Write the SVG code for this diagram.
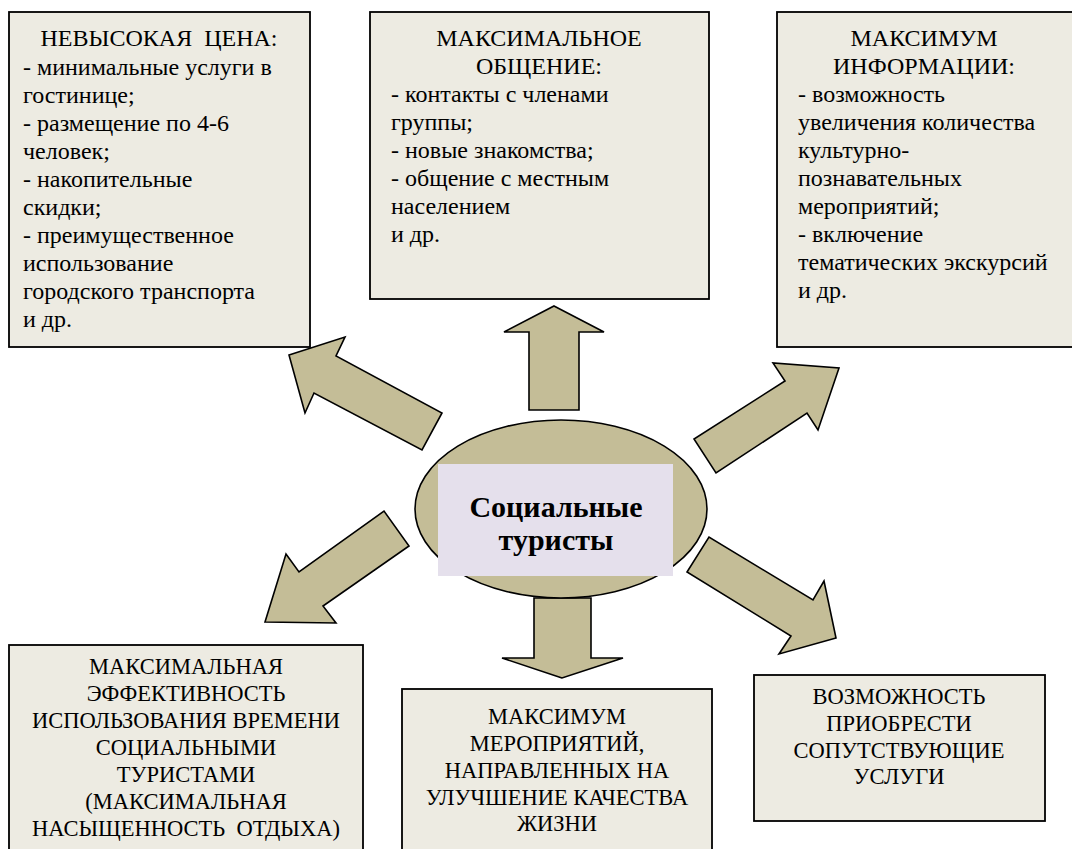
<svg xmlns="http://www.w3.org/2000/svg" width="1072" height="849" viewBox="0 0 1072 849">
<style>
.box{fill:#EDEBE2;stroke:#000;stroke-width:1.8}
.arr{fill:#C4BD97;stroke:#000;stroke-width:1.6;stroke-linejoin:miter}
.t{font-size:24px}
.c{font-size:22.5px;text-anchor:middle}
.h{text-anchor:middle}
.b{font-size:30px;font-weight:bold;text-anchor:middle}
</style>
<rect width="1072" height="849" fill="#fff"/>
<g id="connectors">
<polygon class="arr" points="289,355 345,337 336,356 442,413 422,450 314,393 305,413"/>
<polygon class="arr" points="554,306 604,332 579,332 579,410 529,410 529,332 504,332"/>
<polygon class="arr" points="839,368 818,430 807,413 716,473 694,439 785,381 773,363"/>
<polygon class="arr" points="265,622 286,554 299,572 384,511 409,546 323,606 336,623"/>
<polygon class="arr" points="562,678 502,658 534,658 534,598 591,598 591,658 623,658"/>
<polygon class="arr" points="836,638 779,654 791,636 687,572 709,537 813,600 824,581"/>
</g>
<g font-family="Liberation Serif, Tinos, Times New Roman, DejaVu Serif, serif" fill="#000">
<g id="center">
<ellipse cx="561" cy="509" rx="146" ry="89" fill="#C4BD97" stroke="#000" stroke-width="1.6"/>
<rect x="438" y="464" width="235" height="112" fill="#E5E0EC"/>
<text class="b" x="556" y="517">Социальные</text>
<text class="b" x="556" y="550">туристы</text>
</g>
<g id="box-price">
<rect class="box" x="9" y="12" width="301" height="335"/>
<text class="t h" x="159" y="46">НЕВЫСОКАЯ&#160; ЦЕНА:</text>
<text class="t" x="23" y="75">- минимальные услуги в</text>
<text class="t" x="23" y="103">гостинице;</text>
<text class="t" x="23" y="131">- размещение по 4-6</text>
<text class="t" x="23" y="159">человек;</text>
<text class="t" x="23" y="187">- накопительные</text>
<text class="t" x="23" y="215">скидки;</text>
<text class="t" x="23" y="243">- преимущественное</text>
<text class="t" x="23" y="271">использование</text>
<text class="t" x="23" y="299">городского транспорта</text>
<text class="t" x="23" y="327">и др.</text>
</g>
<g id="box-communication">
<rect class="box" x="370" y="12" width="339" height="287"/>
<text class="t h" x="539" y="46">МАКСИМАЛЬНОЕ</text>
<text class="t h" x="539" y="74">ОБЩЕНИЕ:</text>
<text class="t" x="391" y="102">- контакты с членами</text>
<text class="t" x="391" y="130">группы;</text>
<text class="t" x="391" y="158">- новые знакомства;</text>
<text class="t" x="391" y="186">- общение с местным</text>
<text class="t" x="391" y="214">населением</text>
<text class="t" x="391" y="242">и др.</text>
</g>
<g id="box-information">
<rect class="box" x="777" y="12" width="300" height="335"/>
<text class="t h" x="924" y="46">МАКСИМУМ</text>
<text class="t h" x="924" y="74">ИНФОРМАЦИИ:</text>
<text class="t" x="798" y="102">- возможность</text>
<text class="t" x="798" y="130">увеличения количества</text>
<text class="t" x="798" y="158">культурно-</text>
<text class="t" x="798" y="186">познавательных</text>
<text class="t" x="798" y="214">мероприятий;</text>
<text class="t" x="798" y="242">- включение</text>
<text class="t" x="798" y="270">тематических экскурсий</text>
<text class="t" x="798" y="298">и др.</text>
</g>
<g id="box-efficiency">
<rect class="box" x="9" y="645" width="354" height="220"/>
<text class="c" x="186" y="674">МАКСИМАЛЬНАЯ</text>
<text class="c" x="186" y="701">ЭФФЕКТИВНОСТЬ</text>
<text class="c" x="186" y="728">ИСПОЛЬЗОВАНИЯ ВРЕМЕНИ</text>
<text class="c" x="186" y="755">СОЦИАЛЬНЫМИ</text>
<text class="c" x="186" y="782">ТУРИСТАМИ</text>
<text class="c" x="186" y="809">(МАКСИМАЛЬНАЯ</text>
<text class="c" x="186" y="836">НАСЫЩЕННОСТЬ&#160; ОТДЫХА)</text>
</g>
<g id="box-events">
<rect class="box" x="402" y="689" width="310" height="180"/>
<text class="c" x="557" y="724">МАКСИМУМ</text>
<text class="c" x="557" y="751">МЕРОПРИЯТИЙ,</text>
<text class="c" x="557" y="778">НАПРАВЛЕННЫХ НА</text>
<text class="c" x="557" y="805">УЛУЧШЕНИЕ КАЧЕСТВА</text>
<text class="c" x="557" y="831">ЖИЗНИ</text>
</g>
<g id="box-services">
<rect class="box" x="754" y="675" width="291" height="146"/>
<text class="c" x="899" y="704">ВОЗМОЖНОСТЬ</text>
<text class="c" x="899" y="731">ПРИОБРЕСТИ</text>
<text class="c" x="899" y="758">СОПУТСТВУЮЩИЕ</text>
<text class="c" x="899" y="784">УСЛУГИ</text>
</g>
</g>
</svg>
